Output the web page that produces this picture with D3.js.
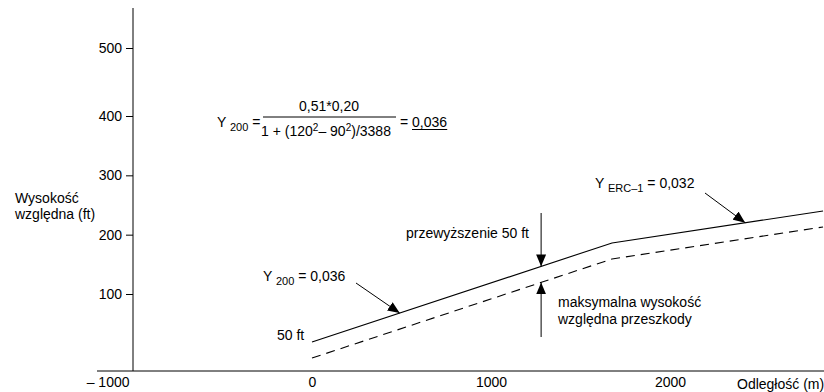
<!DOCTYPE html>
<html><head><meta charset="utf-8">
<script src="https://cdn.jsdelivr.net/npm/d3@7"></script>
<style>
body{margin:0;background:#fff;}
text{font-family:"Liberation Sans",Arial,sans-serif;fill:#000;}
</style>
</head><body>
<svg id="chart" width="824" height="392"></svg>
<script>
// ---- data ----
const distances = [0, 1676, 2855];            // m
const surfaceHeights = [19, 186, 240];        // ft (solid line, surface)
const obstacleHeights = [-8, 159, 213];       // ft (dashed line, max obstacle height)
const xTickValues = [-1000, 0, 1000, 2000];
const xTickLabels = ["\u2013 1000", "0", "1000", "2000"];
const yTickValues = [100, 200, 300, 400, 500];
const yTickLabels = ["100", "200", "300", "400", "500"];
const arrowY200At = 490;       // m, arrow target on the surface
const arrowERCAt = 2420;       // m
const arrowPairAt = 1280;      // m, vertical arrows

const svg = d3.select("#chart");
const fs = 14;
const subFs = 11;

const x = d3.scaleLinear().domain([-1000, 0]).range([133, 312]);
const y = d3.scaleLinear().domain([100, 400, 500]).range([294, 116, 48]);
const axisY = 371;

// defs
svg.append("defs").append("marker")
  .attr("id","ah").attr("viewBox","0 0 12 10").attr("refX",12).attr("refY",5)
  .attr("markerWidth",12).attr("markerHeight",10).attr("markerUnits","userSpaceOnUse")
  .attr("orient","auto")
  .append("path").attr("d","M0,0 L12,5 L0,10 Z").attr("fill","#000");

// axes lines
svg.append("line").attr("x1",97).attr("x2",824).attr("y1",axisY).attr("y2",axisY)
  .attr("stroke","#000").attr("stroke-width",1);
svg.append("line").attr("x1",x(-1000)).attr("x2",x(-1000)).attr("y1",8).attr("y2",axisY)
  .attr("stroke","#000").attr("stroke-width",1);

// y axis ticks
const yAxis = d3.axisLeft(y).tickValues(yTickValues).tickFormat((d,i)=>yTickLabels[i])
  .tickSize(7).tickPadding(4);
const gy = svg.append("g").attr("transform",`translate(${x(-1000)},0)`).call(yAxis);
gy.select(".domain").remove();
gy.selectAll("text").style("font-size",fs+"px").style("font-family","Liberation Sans, Arial, sans-serif");
gy.selectAll("line").attr("stroke","#000");

// x axis labels
const xAxis = d3.axisBottom(x).tickValues(xTickValues).tickFormat((d,i)=>xTickLabels[i])
  .tickSize(0).tickPadding(6);
const gx = svg.append("g").attr("transform",`translate(0,${axisY})`).call(xAxis);
gx.select(".domain").remove();
gx.selectAll("text").style("font-size",fs+"px").style("font-family","Liberation Sans, Arial, sans-serif");
gx.selectAll("text").filter(d=>d===-1000).attr("text-anchor","end").attr("dx",-4);

// axis titles
svg.append("text").attr("x",737).attr("y",axisY+18).style("font-size",fs+"px").text("Odległość (m)");
const yt = svg.append("text").attr("x",15).attr("y",0).style("font-size",fs+"px");
yt.append("tspan").attr("x",15).attr("y",203).text("Wysokość");
yt.append("tspan").attr("x",15).attr("y",219).text("względna (ft)");

// lines
const pts = (hs)=>distances.map((d,i)=>[x(d), y(hs[i])]);
const lineGen = d3.line();
svg.append("path").attr("d",lineGen(pts(surfaceHeights))).attr("fill","none")
  .attr("stroke","#000").attr("stroke-width",1.1);
svg.append("path").attr("d",lineGen(pts(obstacleHeights))).attr("fill","none")
  .attr("stroke","#000").attr("stroke-width",1.1).attr("stroke-dasharray","9,6");

const interp = (hs, d)=>{
  const s = d3.scaleLinear().domain(distances).range(hs);
  return s(d);
};

// arrows
function arrow(x1,y1,x2,y2){
  svg.append("line").attr("x1",x1).attr("y1",y1).attr("x2",x2).attr("y2",y2)
    .attr("stroke","#000").attr("stroke-width",1).attr("marker-end","url(#ah)");
}
arrow(356,283, x(arrowY200At), y(interp(surfaceHeights,arrowY200At)));
arrow(705,193, x(arrowERCAt), y(interp(surfaceHeights,arrowERCAt)));
arrow(x(arrowPairAt),213, x(arrowPairAt), y(interp(surfaceHeights,arrowPairAt)));
arrow(x(arrowPairAt),337, x(arrowPairAt), y(interp(obstacleHeights,arrowPairAt)));

// labels
function subLabel(xp, yp, main, sub, rest){
  const t = svg.append("text").attr("x",xp).attr("y",yp).style("font-size",fs+"px");
  t.append("tspan").text(main);
  t.append("tspan").attr("dy",4).style("font-size",subFs+"px").text(sub);
  t.append("tspan").attr("dy",-4).text(rest);
  return t;
}
subLabel(263,281,"Y ","200"," = 0,036");
subLabel(595,188,"Y ","ERC\u20131"," = 0,032");
svg.append("text").attr("x",277).attr("y",340).style("font-size",fs+"px").text("50 ft");
svg.append("text").attr("x",406).attr("y",238).style("font-size",fs+"px").text("przewyższenie 50 ft");
svg.append("text").attr("x",558).attr("y",307).style("font-size",fs+"px").text("maksymalna wysokość");
svg.append("text").attr("x",558).attr("y",324).style("font-size",fs+"px").text("względna przeszkody");

// formula
subLabel(217,127,"Y ","200"," =");
svg.append("text").attr("x",329).attr("y",111).attr("text-anchor","middle").style("font-size",fs+"px").text("0,51*0,20");
svg.append("line").attr("x1",263).attr("x2",396).attr("y1",117).attr("y2",117).attr("stroke","#000");
const den = svg.append("text").attr("x",326).attr("y",136).attr("text-anchor","middle").style("font-size",fs+"px");
den.append("tspan").text("1 + (120");
den.append("tspan").attr("dy",-5).style("font-size","10px").text("2");
den.append("tspan").attr("dy",5).text("\u2013 90");
den.append("tspan").attr("dy",-5).style("font-size","10px").text("2");
den.append("tspan").attr("dy",5).text(")/3388");
svg.append("text").attr("x",400).attr("y",127).style("font-size",fs+"px").text("= ");
const res = svg.append("text").attr("x",412).attr("y",127).style("font-size",fs+"px").text("0,036");
const bb = res.node().getBBox();
svg.append("line").attr("x1",bb.x).attr("x2",bb.x+bb.width).attr("y1",129.5).attr("y2",129.5).attr("stroke","#000");
</script>
</body></html>
